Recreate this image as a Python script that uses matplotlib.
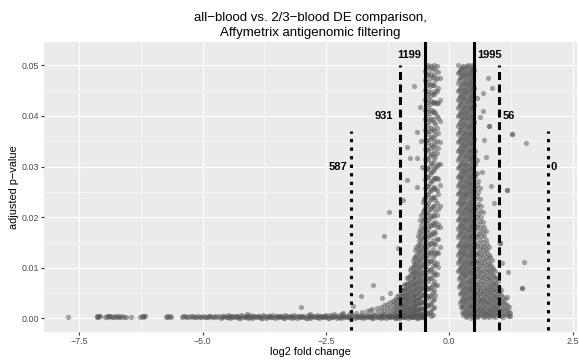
import matplotlib
matplotlib.use("Agg")
import matplotlib.pyplot as plt
from matplotlib.ticker import MultipleLocator, FuncFormatter

plt.rcParams['font.family'] = ['Liberation Sans', 'DejaVu Sans']

# ---------------- data (y values of point groups in units of 1e-4) ----------------
# far left tail, adjusted p ~ 0
tail_x = [-7.73, -7.15, -7.13, -7.11, -7.09, -7.07, -6.97, -6.94, -6.92, -6.89, -6.87,
          -6.84, -6.81, -6.78, -6.76, -6.72, -6.70, -6.67, -6.64, -6.60, -6.56, -6.45,
          -6.26, -6.23, -6.21, -6.19, -6.17, -5.75, -5.72, -5.70, -5.66, -5.64, -5.42,
          -5.39, -5.36, -5.33, -5.29, -5.26, -5.22, -5.19, -5.16, -5.13, -5.09, -5.06,
          -5.03, -5.00, -4.96, -4.93, -4.90, -4.87, -4.84, -4.81, -4.77, -4.74, -4.70,
          -4.67, -4.10]
tail_y = [2, 3, 4, 2, 5, 4, 3, 5, 2, 4, 4, 2, 3, 5, 2, 4, 3, 2, 4, 3, 2, 3,
          3, 5, 2, 4, 4, 3, 5, 2, 4, 3, 2, 4, 4, 2, 3, 5, 2, 4, 3, 2, 4, 3,
          2, 5, 3, 2, 2, 4, 4, 2, 3, 5, 2, 4, 9]

band_x = [-4.62, -4.58, -4.53, -4.49, -4.44, -4.40, -4.35, -4.31, -4.26, -4.22,
          -4.17, -4.13, -4.08, -4.04, -3.99, -3.95, -3.90, -3.86, -3.81, -3.77,
          -3.72, -3.68, -3.63, -3.59, -3.54, -3.50, -3.45, -3.41, -3.36, -3.32,
          -3.27, -3.23, -3.18, -3.14, -3.09, -3.05, -3.00, -2.96, -2.91, -2.87,
          -2.82, -2.78, -2.73, -2.69, -2.64, -2.60, -2.55, -2.51, -2.46, -2.42,
          -2.37, -2.33, -2.28, -2.24, -2.19, -2.15, -2.10, -2.06, -2.01, -1.97,
          -1.92, -1.88, -1.83, -1.79, -1.74, -1.70, -1.65, -1.61, -1.56, -1.52,
          -1.47, -1.43, -1.38, -1.34, -1.29, -1.25, -1.20, -1.16, -1.11, -1.07,
          -1.02, -0.98, -0.93, -0.89, -0.84, -0.80, -0.75, -0.71, -0.66, -0.62,
          -0.57, -0.53]
band_y = [1, 5, 2, 6, 0, 4, 3, 5, 1, 6, 2, 5, 1, 6, 0, 4, 3, 5, 1, 6,
          1, 5, 2, 6, 0, 4, 3, 5, 1, 6, 2, 5, 1, 6, 0, 4, 3, 5, 1, 6,
          1, 5, 2, 6, 0, 4, 3, 5, 1, 6, 2, 5, 1, 6, 0, 4, 3, 5, 1, 6,
          1, 5, 2, 6, 0, 4, 3, 5, 1, 6, 2, 5, 1, 6, 0, 4, 3, 5, 1, 6,
          1, 5, 2, 6, 0, 4, 3, 5, 1, 6, 2, 5]

band2_x = [-4.60, -4.56, -4.51, -4.47, -4.42, -4.38, -4.33, -4.29, -4.24, -4.20,
           -4.15, -4.11, -4.06, -4.02, -3.97, -3.93, -3.88, -3.84, -3.79, -3.75,
           -3.70, -3.66, -3.61, -3.57, -3.52, -3.48, -3.43, -3.39, -3.34, -3.30,
           -3.25, -3.21, -3.16, -3.12, -3.07, -3.03, -2.98, -2.94, -2.89, -2.85,
           -2.80, -2.76, -2.71, -2.67, -2.62, -2.58, -2.53, -2.49, -2.44, -2.40,
           -2.35, -2.31, -2.26, -2.22, -2.17, -2.13, -2.08, -2.04, -1.99, -1.95,
           -1.90, -1.86, -1.81, -1.77, -1.72, -1.68, -1.63, -1.59, -1.54, -1.50,
           -1.45, -1.41, -1.36, -1.32, -1.27, -1.23, -1.18, -1.14, -1.09, -1.05,
           -1.00, -0.96, -0.91, -0.87, -0.82, -0.78, -0.73, -0.69, -0.64, -0.60,
           -0.55]
band2_y = [3, 4, 2, 3, 5, 2, 4, 3, 1, 4, 3, 4, 2, 3, 5, 2, 4, 3, 1, 4,
           3, 4, 2, 3, 5, 2, 4, 3, 1, 4, 3, 4, 2, 3, 5, 2, 4, 3, 1, 4,
           3, 4, 2, 3, 5, 2, 4, 3, 1, 4, 3, 4, 2, 3, 5, 2, 4, 3, 1, 4,
           3, 4, 2, 3, 5, 2, 4, 3, 1, 4, 3, 4, 2, 3, 5, 2, 4, 3, 1, 4,
           3, 4, 2, 3, 5, 2, 4, 3, 1, 4, 3]

# left wedge (x lane -> y values)
lw_x = [-0.515, -0.54, -0.565, -0.59, -0.615, -0.64, -0.665, -0.69, -0.715, -0.74,
        -0.77, -0.80, -0.83, -0.86, -0.89, -0.92, -0.95, -0.98, -1.02, -1.06, -1.10,
        -1.15, -1.20, -1.26, -1.32, -1.39, -1.47, -1.56, -1.66, -1.77, -1.89, -2.02,
        -2.17, -2.33, -2.50]
lw_y = [[235, 214, 196, 178, 161, 143, 127, 110, 94, 78, 63, 48, 34, 21, 9],
        [230, 210, 192, 173, 156, 138, 122, 106, 90, 75, 61, 47, 33, 20, 10, 2],
        [204, 185, 167, 150, 133, 117, 101, 86, 72, 58, 45, 32, 20, 9],
        [194, 176, 159, 143, 127, 111, 96, 82, 68, 55, 43, 31, 19, 9],
        [170, 153, 137, 121, 106, 92, 78, 65, 53, 41, 30, 19, 9],
        [162, 146, 131, 116, 102, 88, 75, 63, 51, 39, 29, 19, 10, 3],
        [142, 126, 112, 98, 85, 72, 60, 49, 38, 28, 18, 9],
        [136, 122, 108, 94, 82, 70, 58, 47, 37, 27, 17, 8],
        [119, 105, 92, 80, 68, 57, 46, 36, 26, 17, 8],
        [114, 101, 89, 77, 66, 55, 45, 35, 25, 16, 8, 2],
        [99, 87, 75, 64, 54, 44, 34, 25, 16, 8],
        [95, 83, 72, 62, 52, 42, 32, 23, 14, 6],
        [82, 71, 60, 50, 41, 32, 23, 14, 6],
        [79, 69, 59, 49, 40, 31, 22, 14, 6],
        [68, 58, 48, 39, 30, 22, 13, 5],
        [66, 56, 47, 38, 29, 20, 12, 4],
        [57, 47, 38, 29, 20, 12, 4],
        [56, 47, 38, 29, 20, 12, 4],
        [47, 38, 29, 20, 12, 4],
        [45, 36, 27, 18, 10, 3],
        [39, 30, 21, 12, 5],
        [35, 26, 17, 9],
        [32, 23, 14, 6],
        [29, 20, 11],
        [26, 17, 8],
        [23, 14, 6],
        [20, 12],
        [18, 9],
        [15, 7],
        [13], [11], [10], [9], [8], [7]]

# left column near -0.5 .. -0.2
lc_x = [-0.49, -0.46, -0.43, -0.40, -0.37, -0.34, -0.31, -0.28, -0.25, -0.22, -0.19]
lc_y = [[489, 470, 452, 431, 411, 393, 372, 353, 334, 314, 296, 275, 257, 238, 218, 199, 181, 160, 142, 123, 104, 86, 67, 49, 31, 14],
        [497, 480, 461, 444, 425, 407, 388, 371, 352, 334, 316, 297, 279, 261, 243, 224, 206, 188, 170, 151, 133, 115, 97, 79, 61, 44, 27, 10],
        [500, 483, 467, 449, 433, 415, 398, 381, 364, 347, 330, 313, 296, 279, 262, 245, 228, 211, 194, 177, 160, 143, 126, 109, 92, 75, 58, 41, 24, 8],
        [493, 475, 459, 440, 424, 406, 390, 371, 355, 337, 321, 302, 286, 268, 252, 233, 217, 199, 183, 164, 148, 130, 114, 95, 79, 61, 45, 28, 12],
        [499, 482, 464, 447, 429, 412, 394, 377, 359, 342, 324, 307, 289, 272, 254, 237, 219, 202, 184, 167, 149, 132, 114, 97, 79, 63, 46, 30, 15, 4],
        [495, 477, 461, 443, 427, 409, 393, 375, 359, 341, 325, 307, 291, 273, 257, 239, 223, 205, 189, 171, 155, 137, 121, 103, 87, 69, 53, 36, 20, 6],
        [500, 481, 462, 444, 425, 407, 388, 370, 351, 333, 314, 296, 277, 259, 240, 222, 203, 185, 166, 148, 129, 111, 92, 74, 56, 39, 23],
        [491, 471, 449, 428, 406, 385, 363, 342, 320, 299, 277, 256, 234, 213, 191, 170, 148, 127, 106, 86, 66, 47],
        [498, 474, 449, 425, 400, 376, 351, 327, 302, 278, 253, 229, 204, 180, 156, 132, 109, 87, 66],
        [486, 456, 426, 396, 366, 336, 306, 276, 246, 216, 186, 157, 129, 102],
        [474, 432, 390, 348, 306, 264, 222, 180, 141]]

# right column near 0.17 .. 0.5
rc_x = [0.17, 0.19, 0.21, 0.23, 0.25, 0.27, 0.29, 0.31, 0.33, 0.35, 0.37, 0.39,
        0.41, 0.43, 0.45, 0.47, 0.49, 0.51]
rc_y = [[500, 484, 466, 450, 432, 415, 399, 381, 364, 348, 330, 313, 297, 279, 262, 246, 228, 211, 195, 177, 160, 144, 126, 109, 93],
        [486, 470, 452, 435, 419, 401, 384, 368, 350, 333, 317, 299, 282, 266, 248, 231, 215, 197, 180, 164, 146, 129, 113, 95, 78, 62],
        [490, 474, 456, 439, 423, 405, 388, 372, 354, 337, 321, 303, 286, 270, 252, 235, 219, 201, 184, 168, 150, 133, 117, 99, 82, 66, 48, 31],
        [493, 477, 459, 442, 426, 408, 391, 375, 357, 340, 324, 306, 289, 273, 255, 238, 222, 204, 187, 171, 153, 136, 120, 102, 85, 69, 51, 34, 22],
        [497, 481, 463, 446, 430, 412, 395, 379, 361, 344, 328, 310, 293, 277, 259, 242, 226, 208, 191, 175, 157, 140, 124, 106, 89, 73, 55, 38, 22, 12],
        [499, 483, 466, 449, 433, 415, 398, 382, 364, 347, 331, 313, 296, 280, 262, 245, 229, 211, 194, 178, 160, 143, 127, 109, 92, 76, 58, 41, 25, 7],
        [487, 469, 452, 436, 418, 401, 385, 367, 350, 334, 316, 299, 283, 265, 248, 232, 214, 197, 181, 163, 146, 130, 112, 95, 79, 61, 44, 28, 10],
        [491, 473, 456, 440, 422, 405, 389, 371, 354, 338, 320, 303, 287, 269, 252, 236, 218, 201, 185, 167, 150, 134, 116, 99, 83, 65, 48, 32, 14],
        [494, 476, 459, 443, 425, 408, 392, 374, 357, 341, 323, 306, 290, 272, 255, 239, 221, 204, 188, 170, 153, 137, 119, 102, 86, 68, 51, 35, 17, 2],
        [498, 480, 463, 447, 429, 412, 396, 378, 361, 345, 327, 310, 294, 276, 259, 243, 225, 208, 192, 174, 157, 141, 123, 106, 90, 72, 55, 39, 21, 5],
        [500, 482, 466, 449, 432, 416, 398, 381, 365, 347, 330, 314, 296, 279, 263, 245, 228, 212, 194, 177, 161, 143, 126, 110, 92, 75, 59, 41, 24, 8],
        [486, 469, 453, 435, 418, 402, 384, 367, 351, 333, 316, 300, 282, 265, 249, 231, 214, 198, 180, 163, 147, 129, 112, 96, 78, 61, 45, 27, 11],
        [490, 473, 457, 439, 422, 406, 388, 371, 355, 337, 320, 304, 286, 269, 253, 235, 218, 202, 184, 167, 151, 133, 116, 100, 82, 65, 49, 31, 15],
        [493, 476, 460, 442, 425, 409, 391, 374, 358, 340, 323, 307, 289, 272, 256, 238, 221, 205, 187, 170, 154, 136, 119, 103, 85, 68, 52, 34, 18, 1],
        [497, 480, 464, 446, 429, 413, 395, 378, 362, 344, 327, 311, 293, 276, 260, 242, 225, 209, 191, 174, 158, 140, 123, 107, 89, 72, 56, 38, 22, 5],
        [500, 483, 467, 449, 432, 416, 398, 381, 365, 347, 330, 314, 296, 279, 263, 245, 228, 212, 194, 177, 161, 143, 126, 110, 92, 75, 59, 41, 25, 9],
        [486, 470, 452, 435, 419, 401, 384, 368, 350, 333, 317, 299, 282, 266, 248, 231, 215, 197, 180, 164, 146, 129, 113, 95, 78, 62, 44, 27, 11],
        [490, 456, 422, 388, 354, 320, 286, 252, 218, 184, 150, 116, 82, 48, 15]]

# right wedge
rw_x = [0.53, 0.56, 0.59, 0.62, 0.65, 0.68, 0.71, 0.74, 0.77, 0.80, 0.83, 0.86,
        0.89, 0.92, 0.95, 0.98, 1.01, 1.05, 1.09, 1.13, 1.17, 1.21, 1.23]
rw_y = [[330, 305, 281, 258, 236, 215, 195, 176, 158, 141, 125, 109, 94, 80, 66, 53, 40, 28, 16, 6],
        [312, 288, 264, 242, 220, 200, 180, 162, 144, 128, 112, 97, 83, 69, 56, 44, 32, 20, 10, 2],
        [272, 249, 227, 206, 186, 167, 149, 132, 116, 101, 87, 73, 60, 48, 36, 25, 14, 4],
        [257, 235, 213, 193, 173, 155, 137, 121, 105, 91, 77, 63, 51, 39, 28, 17, 7],
        [222, 201, 181, 162, 144, 127, 111, 96, 82, 68, 55, 43, 32, 21, 10],
        [210, 190, 170, 152, 135, 118, 103, 88, 74, 61, 48, 36, 25, 14, 4],
        [181, 162, 144, 127, 111, 96, 82, 68, 55, 43, 32, 21, 10, 3],
        [172, 154, 137, 121, 105, 91, 77, 63, 51, 39, 28, 17, 8],
        [148, 131, 115, 100, 86, 72, 59, 47, 35, 24, 13, 5],
        [141, 125, 110, 95, 81, 68, 56, 44, 32, 21, 11, 3],
        [121, 106, 92, 78, 65, 53, 41, 30, 19, 8],
        [115, 101, 87, 74, 62, 50, 38, 27, 16, 6],
        [98, 84, 71, 59, 47, 36, 25, 14, 5],
        [94, 81, 68, 56, 44, 33, 22, 12, 3],
        [78, 66, 54, 43, 32, 21, 10],
        [75, 63, 51, 40, 29, 18, 8],
        [61, 50, 39, 28, 17, 7],
        [57, 46, 35, 24, 14, 4],
        [43, 32, 21, 11, 3],
        [39, 29, 19, 9],
        [26, 16, 7],
        [22, 13, 4],
        [10, 4]]

# isolated points
out_x = [-3.00, -2.83, -2.15, -1.95, -1.79, -1.60, -1.55, -1.37, -1.33, -1.22, -1.20,
         -1.04, -0.94, -0.86, -0.66, -0.80, -0.66, -0.86, -0.65, -0.60, -0.72, -0.55,
         -0.58,
         0.57, 0.68, 0.78, 0.86, 0.68, 0.80, 0.80, 0.71, 0.62, 0.74, 0.66, 0.85, 0.90,
         1.03, 1.03, 1.07, 1.19, 1.52, 1.48, 1.48, 1.17, 1.17, 1.17, 1.28, 1.28, 1.56]
out_y = [23, 9, 10, 24, 44, 17, 66, 40, 163, 210, 50,
         139, 234, 273, 260, 316, 316, 338, 368, 417, 460, 300,
         350,
         435, 445, 474, 455, 410, 380, 381, 352, 398, 318, 290, 262, 228,
         149, 150, 110, 92, 111, 60, 61, 43, 253, 254, 364, 365, 346]

# cut-offs and counts
solid_x = [-0.5, 0.5]
solid_n = ["1199", "1995"]
dash_x = [-1.0, 1.0]
dash_n = ["931", "56"]
dot_x = [-2.0, 2.0]
dot_n = ["587", "0"]

# ---------------- assemble points ----------------
xs, ys = [], []
for px, py in ((tail_x, tail_y), (band_x, band_y), (band2_x, band2_y)):
    for x, y in zip(px, py):
        xs.append(x); ys.append(y * 1e-4)
for group_x, group_y in ((lw_x, lw_y), (lc_x, lc_y), (rc_x, rc_y), (rw_x, rw_y)):
    for x, ylist in zip(group_x, group_y):
        for y in ylist:
            xs.append(x); ys.append(y * 1e-4)
for x, y in zip(out_x, out_y):
    xs.append(x); ys.append(y * 1e-4)

# ---------------- figure ----------------
W, H = 579, 360
fig = plt.figure(figsize=(W / 100, H / 100), dpi=100)
L, R, T, B = 44, 577, 42, 332
ax = fig.add_axes([L / W, 1 - B / H, (R - L) / W, (B - T) / H])
ax.set_facecolor('#EBEBEB')
for s in ax.spines.values():
    s.set_visible(False)
ax.set_xlim(-8.214, 2.588)
ax.set_ylim(-0.00267, 0.0546)
ax.xaxis.set_major_locator(MultipleLocator(2.5))
ax.xaxis.set_minor_locator(MultipleLocator(1.25))
ax.yaxis.set_major_locator(MultipleLocator(0.01))
ax.yaxis.set_minor_locator(MultipleLocator(0.005))
ax.grid(which='major', color='white', lw=0.8)
ax.grid(which='minor', color='white', lw=0.4)
ax.set_axisbelow(True)
ax.tick_params(which='minor', length=0)
ax.tick_params(which='major', length=2.2, width=0.8, color='#333333',
               labelcolor='#4D4D4D', labelsize=6.4, pad=1.5)
ax.xaxis.set_major_formatter(FuncFormatter(lambda v, p: f"{v:.1f}".replace('-', '\u2212')))
ax.yaxis.set_major_formatter(FuncFormatter(lambda v, p: f"{v:.2f}"))

ax.scatter(xs, ys, s=14, c='#555555', alpha=0.5, linewidths=0, zorder=2)

ybot = -0.0022
for x in solid_x:
    ax.axvline(x, color='black', lw=2.2, zorder=3)
for x in dash_x:
    ax.plot([x, x], [ybot, 0.05], color='black', lw=2.2, dashes=(2.6, 1.5), zorder=3)
for x in dot_x:
    ax.plot([x, x], [ybot, 0.037], color='black', lw=2.2, dashes=(1.1, 1.7), zorder=3)

lab_kw = dict(fontsize=8, fontweight='bold', color='black', va='center',
              textcoords='offset points', zorder=4)
ax.annotate(solid_n[0], xy=(solid_x[0], 0.052), xytext=(-2.7, 0), ha='right', **lab_kw)
ax.annotate(solid_n[1], xy=(solid_x[1], 0.052), xytext=(2.2, 0), ha='left', **lab_kw)
ax.annotate(dash_n[0], xy=(dash_x[0], 0.040), xytext=(-5.0, 0), ha='right', **lab_kw)
ax.annotate(dash_n[1], xy=(dash_x[1], 0.040), xytext=(3.2, 0), ha='left', **lab_kw)
ax.annotate(dot_n[0], xy=(dot_x[0], 0.030), xytext=(-2.7, 0), ha='right', **lab_kw)
ax.annotate(dot_n[1], xy=(dot_x[1], 0.030), xytext=(1.5, 0), ha='left', **lab_kw)

cx = (L + R) / 2 / W
fig.text(cx, 1 - 18 / H, "all\u2212blood vs. 2/3\u2212blood DE comparison,",
         ha='center', va='center', fontsize=9.5, color='black')
fig.text(cx, 1 - 33 / H, "Affymetrix antigenomic filtering",
         ha='center', va='center', fontsize=9.5, color='black')
fig.text(cx, 1 - 352 / H, "log2 fold change", ha='center', va='center',
         fontsize=7.9, color='black')
fig.text(14 / W, 1 - 187 / H, "adjusted p\u2212value", ha='center', va='center',
         rotation=90, fontsize=7.9, color='black')

fig.savefig('out.png', dpi=100)
